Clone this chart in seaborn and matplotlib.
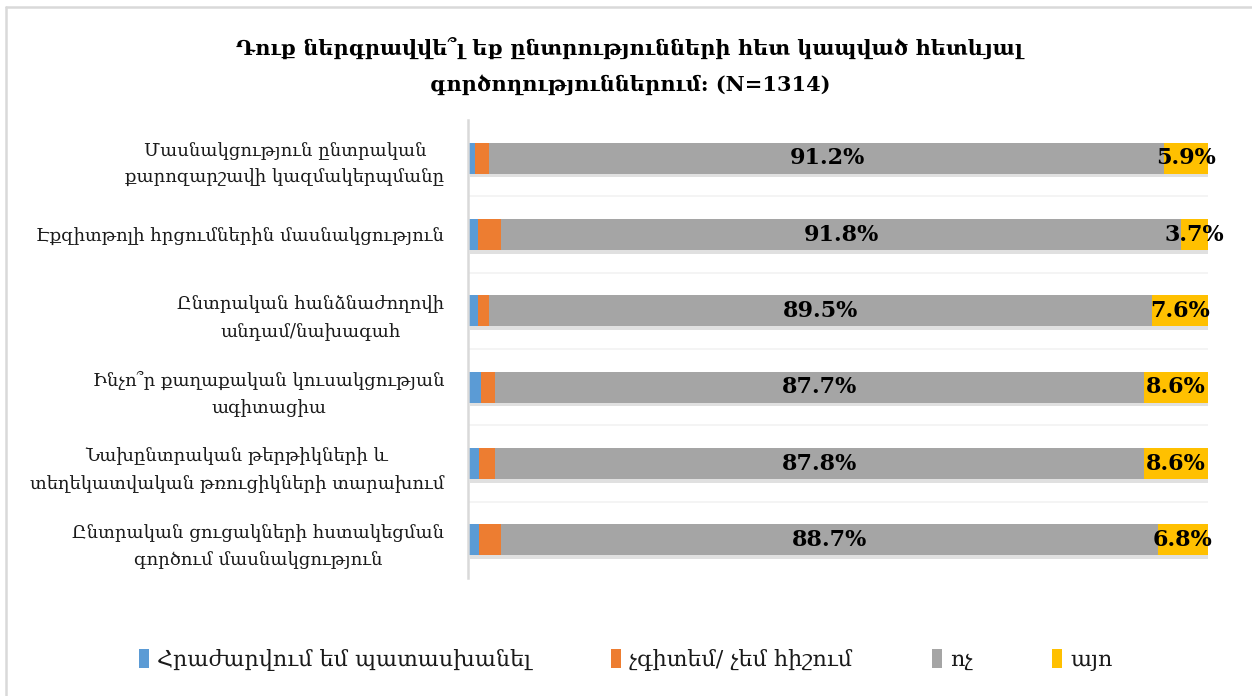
import matplotlib
matplotlib.use("Agg")
import matplotlib.pyplot as plt
import matplotlib.patheffects as pe
from matplotlib.lines import Line2D
from matplotlib.patches import Patch
import numpy as np
import pandas as pd
import seaborn as sns

sns.set_theme(style="white")
plt.rcParams['font.family'] = ['DejaVu Serif', 'DejaVu Sans']

# ---- data ----
categories = [
    "Մասնակցություն ընտրական\nքարոզարշավի կազմակերպմանը",
    "Էքզիտթոլի հրցումներին մասնակցություն",
    "Ընտրական հանձնաժողովի\nանդամ/նախագահ",
    "Ինչո՞ր քաղաքական կուսակցության\nագիտացիա",
    "Նախընտրական թերթիկների և\nտեղեկատվական թռուցիկների տարախում",
    "Ընտրական ցուցակների հստակեցման\nգործում մասնակցություն",
]
series_names = ["Հրաժարվում եմ պատասխանել", "չգիտեմ/ չեմ հիշում", "ոչ", "այո"]
refuse = [1.0, 1.3, 1.3, 1.7, 1.5, 1.5]
dont_know = [1.9, 3.2, 1.6, 2.0, 2.1, 3.0]
no = [91.2, 91.8, 89.5, 87.7, 87.8, 88.7]
yes = [5.9, 3.7, 7.6, 8.6, 8.6, 6.8]
title = "Դուք ներգրավվե՞լ եք ընտրությունների հետ կապված հետևյալ\nգործողություններում: (N=1314)"

colors = ["#5B9BD5", "#ED7D31", "#A5A5A5", "#FFC000"]

df = pd.DataFrame({"cat": categories, "refuse": refuse, "dk": dont_know, "no": no, "yes": yes})
df["c1"] = df["refuse"]
df["c2"] = df["c1"] + df["dk"]
df["c3"] = df["c2"] + df["no"]
df["c4"] = df["c3"] + df["yes"]

fig = plt.figure(figsize=(12.52, 6.96), dpi=100)
ax = fig.add_axes([468/1252, 1-578/696, 740/1252, 458/696])

bw = 0.41
order = ["c4", "c3", "c2", "c1"]
cols = [colors[3], colors[2], colors[1], colors[0]]
for i, (col, c) in enumerate(zip(order, cols)):
    n_before = len(ax.patches)
    sns.barplot(data=df, x=col, y="cat", order=categories, color=c, width=bw,
                orient="h", ax=ax, saturation=1, linewidth=0, edgecolor="none")
    if i == 0:
        for p in ax.patches[n_before:]:
            p.set_path_effects([pe.SimplePatchShadow(offset=(1.5, -2.5), alpha=0.12, shadow_rgbFace="#000000"),
                                pe.Normal()])

# value labels
for idx in range(len(categories)):
    gx = (df["c2"][idx] + df["c3"][idx]) / 2
    ax.text(gx, idx, f"{no[idx]:.1f}%", ha="center", va="center", fontsize=16,
            fontweight="bold", color="black")
    yx = (df["c3"][idx] + df["c4"][idx]) / 2
    ax.text(yx, idx, f"{yes[idx]:.1f}%", ha="center", va="center", fontsize=16,
            fontweight="bold", color="black")

# faint separators
for b in np.arange(0.5, len(categories) - 0.5, 1.0):
    ax.axhline(b, color="#f2f2f2", lw=1.2, zorder=0)

ax.set_xlim(0, 100)
ax.set_ylim(len(categories) - 0.5, -0.5)
ax.set_xlabel("")
ax.set_ylabel("")
ax.set_xticks([])
for s in ["top", "right", "bottom"]:
    ax.spines[s].set_visible(False)
ax.spines["left"].set_color("#d9d9d9")
ax.spines["left"].set_linewidth(1.8)
ax.tick_params(axis="y", length=0, pad=17, labelsize=13, labelcolor="#1a1a1a")
for lab in ax.get_yticklabels():
    lab.set_multialignment("center")
    lab.set_linespacing(1.65)

fig.text(0.503, 1 - 66/696, title, ha="center", va="center", fontsize=15,
         fontweight="bold", linespacing=1.95, color="black")

handles = [Patch(facecolor=c, edgecolor="none") for c in colors]
fig.legend(handles, series_names, loc="center", bbox_to_anchor=(0.5, 1 - 660/696),
           ncol=4, frameon=False, fontsize=16, handlelength=0.45, handleheight=0.9,
           handletextpad=0.35, columnspacing=3.6, labelcolor="#1a1a1a")

# chart border (top and left visible)
fig.add_artist(Line2D([6/1252, 6/1252], [0, 1 - 7/696], transform=fig.transFigure,
                      color="#d9d9d9", lw=1.8))
fig.add_artist(Line2D([6/1252, 1], [1 - 7/696, 1 - 7/696], transform=fig.transFigure,
                      color="#d9d9d9", lw=1.8))

fig.savefig("out.png", dpi=100)
